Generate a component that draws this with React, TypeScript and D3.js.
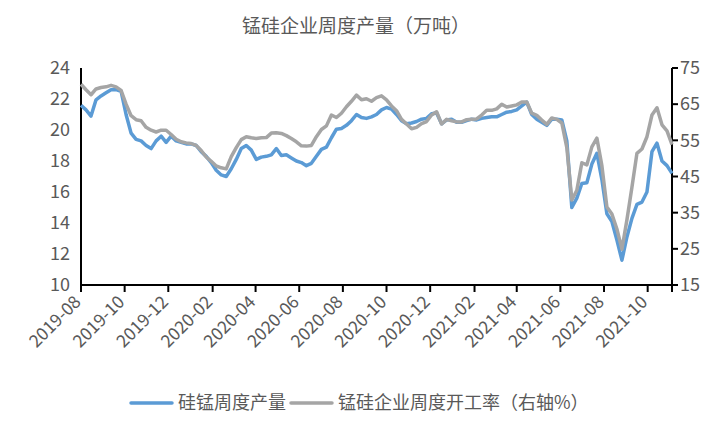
import React from "react";
import * as d3 from "d3";

const startDate = "2019-08-01";
const tickLabels = ["2019-08","2019-10","2019-12","2020-02","2020-04","2020-06","2020-08","2020-10","2020-12","2021-02","2021-04","2021-06","2021-08","2021-10"];
const leftTicks = [10, 12, 14, 16, 18, 20, 22, 24];
const rightTicks = [15, 25, 35, 45, 55, 65, 75];

const output = [
  21.6, 21.3, 20.9, 21.95, 22.2, 22.4, 22.6, 22.6, 22.5, 21.0,
  19.8, 19.4, 19.3, 19.0, 18.8, 19.3, 19.6, 19.2, 19.6, 19.3,
  19.2, 19.1, 19.1, 19.0, 18.6, 18.3, 17.9, 17.4, 17.1, 17.0,
  17.5, 18.1, 18.8, 19.0, 18.7, 18.1, 18.25, 18.3, 18.4, 18.8,
  18.35, 18.4, 18.2, 18.0, 17.9, 17.7, 17.85, 18.3, 18.75, 18.9,
  19.5, 20.05, 20.1, 20.3, 20.6, 21.0, 20.8, 20.75, 20.85, 21.0,
  21.3, 21.45, 21.35, 21.0, 20.6, 20.4, 20.45, 20.55, 20.7, 20.75,
  21.05, 21.1, 20.4, 20.65, 20.7, 20.5, 20.5, 20.6, 20.7, 20.65,
  20.75, 20.8, 20.85, 20.85, 21.0, 21.15, 21.2, 21.3, 21.55, 21.8,
  21.0, 20.7, 20.5, 20.3, 20.7, 20.7, 20.65, 19.3, 15.0, 15.6,
  16.55, 16.6, 17.8, 18.5, 16.8, 14.6, 14.1, 12.9, 11.6, 13.1,
  14.3, 15.2, 15.35, 16.0, 18.6, 19.15, 18.0, 17.7, 17.2
];

const rate = [
  70.5, 69.0, 67.6, 69.2, 69.6, 69.8, 70.2, 69.8, 68.8, 65.0,
  61.8, 60.7, 60.4, 58.6, 57.8, 57.3, 57.8, 57.8, 56.6, 55.3,
  54.6, 54.3, 54.1, 53.6, 52.2, 50.4, 49.2, 47.9, 47.4, 47.1,
  50.5, 53.0, 55.2, 56.0, 55.7, 55.5, 55.7, 55.75, 57.0, 57.1,
  56.9, 56.3, 55.5, 54.6, 53.5, 53.4, 53.6, 56.0, 58.0, 59.0,
  62.0, 61.3, 62.5, 64.3, 65.8, 67.5, 66.2, 66.5, 65.8, 66.8,
  67.3, 66.2, 64.5, 63.2, 60.8, 59.5, 58.2, 58.6, 59.6, 60.2,
  62.0, 62.9, 59.5, 60.8, 60.4, 60.1, 60.1, 60.7, 60.8, 60.9,
  62.0, 63.3, 63.3, 63.7, 65.0, 64.2, 64.5, 64.8, 65.6, 65.6,
  62.5, 61.9, 60.6, 59.4, 61.2, 60.8, 59.8, 53.0, 38.5, 41.2,
  48.8, 48.2, 53.2, 55.6, 48.0, 36.6, 34.6, 30.5, 24.9, 33.0,
  42.0, 51.4, 52.6, 56.0, 62.0, 64.0, 59.3, 57.6, 53.8
];

const titleText = "锰硅企业周度产量（万吨）";
const legendA = "硅锰周度产量";
const legendB = "锰硅企业周度开工率（右轴%）";

const FONT = "'Noto Sans CJK SC', 'Noto Sans', sans-serif";
const BLUE = "#5B9BD5";
const GRAY = "#A5A5A5";
const TXT = "#595959";

export default function App() {
  const W = 721, H = 432;
  const left = 81, right = 672, top = 68, bottom = 285;
  const parse = d3.timeParse("%Y-%m-%d");
  const d0 = parse(startDate) as Date;
  const dates = output.map((_, i) => d3.timeDay.offset(d0, i * 7));
  const x = d3.scaleTime().domain([dates[0], dates[dates.length - 1]]).range([left, right]);
  const yL = d3.scaleLinear().domain([10, 24]).range([bottom, top]);
  const yR = d3.scaleLinear().domain([15, 75]).range([bottom, top]);
  const tickDates = tickLabels.map((t) => d3.timeParse("%Y-%m")(t) as Date);

  const lineL = d3.line<number>().x((_, i) => x(dates[i])).y((d) => yL(d));
  const lineR = d3.line<number>().x((_, i) => x(dates[i])).y((d) => yR(d));

  return (
    <svg width={W} height={H} style={{ position: "absolute", left: 0, top: 0, background: "#fff" }} fontFamily={FONT}>
      <rect width={W} height={H} fill="#fff" />
      <text x={356} y={33} textAnchor="middle" fontSize={19} fill={TXT}>{titleText}</text>

      {leftTicks.map((t) => (
        <text key={"l" + t} x={70} y={yL(t)} dy="0.35em" textAnchor="end" fontSize={18} fill={TXT}>{t}</text>
      ))}
      {rightTicks.map((t) => (
        <g key={"r" + t}>
          <line x1={right} x2={right + 6} y1={yR(t)} y2={yR(t)} stroke="#000" strokeWidth={2} />
          <text x={680} y={yR(t)} dy="0.35em" textAnchor="start" fontSize={18} fill={TXT}>{t}</text>
        </g>
      ))}
      {tickDates.map((d, i) => (
        <g key={"x" + i}>
          <line x1={x(d)} x2={x(d)} y1={bottom} y2={bottom + 7} stroke="#000" strokeWidth={2} />
          <text transform={`translate(${x(d) + 1},${bottom + 18}) rotate(-45)`} textAnchor="end" fontSize={17.5} fill={TXT}>{tickLabels[i]}</text>
        </g>
      ))}
      <line x1={right} x2={right} y1={bottom} y2={bottom + 7} stroke="#000" strokeWidth={2} />

      <line x1={left} x2={left} y1={top} y2={bottom} stroke="#000" strokeWidth={2} />
      <line x1={right} x2={right} y1={top} y2={bottom} stroke="#000" strokeWidth={2} />
      <line x1={left - 1} x2={right + 1} y1={bottom} y2={bottom} stroke="#000" strokeWidth={2} />

      <path d={lineL(output) || ""} fill="none" stroke={BLUE} strokeWidth={3.5} strokeLinejoin="round" />
      <path d={lineR(rate) || ""} fill="none" stroke={GRAY} strokeWidth={3.5} strokeLinejoin="round" />

      <line x1={131} x2={172} y1={403} y2={403} stroke={BLUE} strokeWidth={3.5} strokeLinecap="round" />
      <text x={178} y={403} dy="0.35em" fontSize={18} fill={TXT}>{legendA}</text>
      <line x1={291} x2={332} y1={403} y2={403} stroke={GRAY} strokeWidth={3.5} strokeLinecap="round" />
      <text x={338} y={403} dy="0.35em" fontSize={18} fill={TXT}>{legendB}</text>
    </svg>
  );
}
